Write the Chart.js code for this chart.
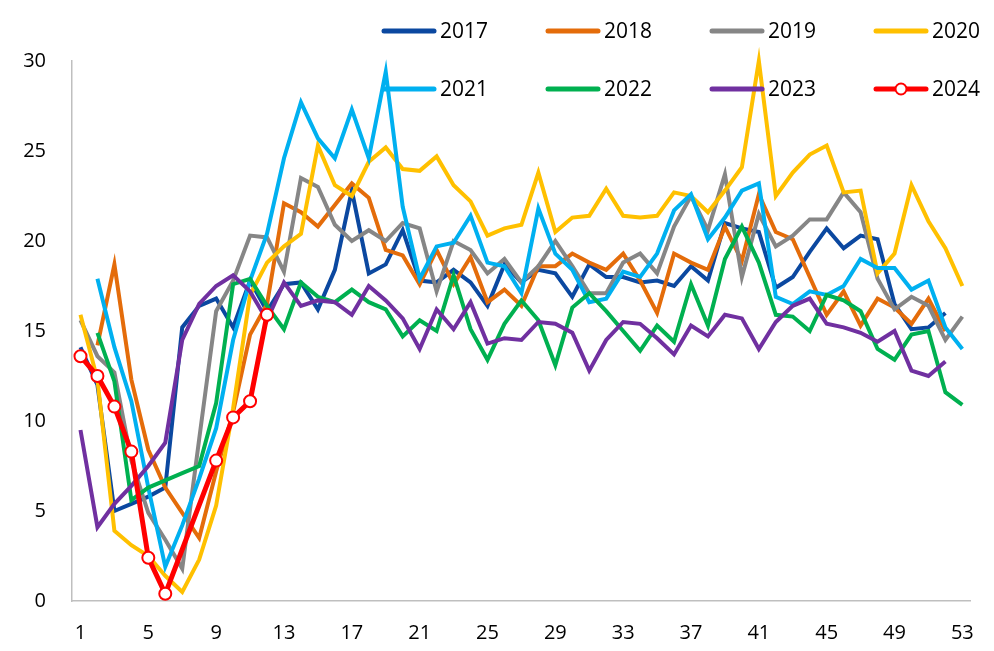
<!DOCTYPE html>
<html>
<head>
<meta charset="utf-8">
<script src="https://cdn.jsdelivr.net/npm/chart.js@4.4.1/dist/chart.umd.min.js"></script>
<style>
  html, body { margin: 0; padding: 0; background: #ffffff; }
  canvas { display: block; }
</style>
</head>
<body>
<canvas id="chart" width="994" height="651"></canvas>
<script>
// Week numbers along the x axis
const weeks = ['1','2','3','4','5','6','7','8','9','10','11','12','13','14','15','16','17','18','19','20',
  '21','22','23','24','25','26','27','28','29','30','31','32','33','34','35','36','37','38','39','40',
  '41','42','43','44','45','46','47','48','49','50','51','52','53'];

// Only every fourth week gets a tick label
const tickWeeks = ['1','5','9','13','17','21','25','29','33','37','41','45','49','53'];

const seriesNames = ['2017','2018','2019','2020','2021','2022','2023','2024'];
const seriesColors = ['#0B48A0','#E46C0A','#868686','#FFC000','#00B0F0','#00B050','#7030A0','#FF0000'];

const y2017 = [14.1, 12.0, 5.0, 5.4, 5.8, 6.3, 15.2, 16.4, 16.8, 15.2, 17.8, 16.1, 17.6, 17.7, 16.2, 18.4, 22.8, 18.2, 18.7, 20.6,
  17.8, 17.7, 18.4, 17.7, 16.4, 18.7, 17.7, 18.4, 18.2, 16.9, 18.7, 18.0, 18.0, 17.7, 17.8, 17.5, 18.6, 17.8, 21.0, 20.7,
  20.5, 17.4, 18.0, 19.4, 20.7, 19.6, 20.3, 20.1, 16.5, 15.1, 15.2, 16.0, null];

const y2018 = [null, 14.2, 18.7, 12.3, 8.4, 6.3, 4.9, 3.5, 7.2, 10.5, 14.8, 16.5, 22.1, 21.6, 20.8, 22.0, 23.2, 22.4, 19.5, 19.2,
  17.6, 19.5, 17.6, 19.1, 16.6, 17.3, 16.4, 18.6, 18.6, 19.3, 18.8, 18.4, 19.3, 17.8, 16.0, 19.3, 18.8, 18.4, 20.8, 18.9,
  22.6, 20.5, 20.1, 18.0, 15.9, 17.2, 15.3, 16.8, 16.3, 15.4, 16.8, 15.0, null];

const y2019 = [15.6, 13.6, 12.7, 7.8, 4.9, 3.4, 1.8, 9.0, 16.1, 17.8, 20.3, 20.2, 18.3, 23.5, 23.0, 20.9, 20.0, 20.6, 20.0, 21.0,
  20.7, 17.2, 20.0, 19.5, 18.2, 19.0, 17.7, 18.6, 20.0, 18.6, 17.1, 17.1, 18.8, 19.3, 18.2, 20.8, 22.5, 20.6, 23.7, 18.0,
  21.5, 19.7, 20.3, 21.2, 21.2, 22.7, 21.6, 17.9, 16.2, 16.9, 16.4, 14.5, 15.8];

const y2020 = [15.9, 12.3, 3.9, 3.1, 2.5, 1.4, 0.5, 2.3, 5.3, 10.7, 17.0, 18.8, 19.7, 20.4, 25.3, 23.1, 22.5, 24.4, 25.2, 24.0,
  23.9, 24.7, 23.1, 22.2, 20.3, 20.7, 20.9, 23.8, 20.5, 21.3, 21.4, 22.9, 21.4, 21.3, 21.4, 22.7, 22.5, 21.6, 22.8, 24.1,
  30.0, 22.5, 23.8, 24.8, 25.3, 22.7, 22.8, 18.2, 19.3, 23.1, 21.1, 19.6, 17.5];

const y2021 = [null, 17.9, 14.1, 11.1, 6.3, 1.9, 4.2, 6.8, 9.6, 14.5, 17.8, 20.4, 24.6, 27.7, 25.7, 24.6, 27.3, 24.6, 29.4, 21.9,
  17.9, 19.7, 19.9, 21.4, 18.8, 18.6, 17.1, 21.8, 19.3, 18.4, 16.6, 16.8, 18.3, 18.0, 19.3, 21.7, 22.6, 20.1, 21.3, 22.8,
  23.2, 16.9, 16.5, 17.2, 17.0, 17.5, 19.0, 18.5, 18.5, 17.3, 17.8, 15.2, 14.0];

const y2022 = [null, 14.9, 12.2, 5.6, 6.3, 6.7, 7.1, 7.5, 11.0, 17.6, 17.9, 16.4, 15.1, 17.7, 16.9, 16.6, 17.3, 16.6, 16.2, 14.7,
  15.6, 15.0, 18.1, 15.1, 13.4, 15.4, 16.7, 15.6, 13.1, 16.3, 17.1, 16.1, 15.0, 13.9, 15.3, 14.4, 17.6, 15.3, 19.0, 20.8,
  18.8, 15.9, 15.8, 15.0, 17.0, 16.7, 16.1, 14.0, 13.4, 14.8, 15.0, 11.6, 10.9];

const y2023 = [9.5, 4.1, 5.4, 6.4, 7.5, 8.8, 14.5, 16.5, 17.5, 18.1, 17.2, 15.6, 17.7, 16.4, 16.7, 16.6, 15.9, 17.5, 16.7, 15.7,
  14.0, 16.2, 15.1, 16.6, 14.3, 14.6, 14.5, 15.5, 15.4, 14.9, 12.8, 14.5, 15.5, 15.4, 14.6, 13.7, 15.3, 14.7, 15.9, 15.7,
  14.0, 15.5, 16.4, 16.8, 15.4, 15.2, 14.9, 14.4, 15.0, 12.8, 12.5, 13.3, null];

const y2024 = [13.6, 12.5, 10.8, 8.3, 2.4, 0.4, null, null, 7.8, 10.2, 11.1, 15.9, null, null, null, null, null, null, null, null,
  null, null, null, null, null, null, null, null, null, null, null, null, null, null, null, null, null, null, null, null,
  null, null, null, null, null, null, null, null, null, null, null, null, null];

const seriesValues = [y2017, y2018, y2019, y2020, y2021, y2022, y2023, y2024];
const markedSeries = '2024';

const datasets = seriesNames.map((name, i) => {
  const marked = name === markedSeries;
  return {
    label: name,
    data: seriesValues[i],
    borderColor: seriesColors[i],
    backgroundColor: seriesColors[i],
    borderWidth: marked ? 5 : 4,
    pointRadius: marked ? 6 : 0,
    pointHoverRadius: marked ? 6 : 0,
    pointBackgroundColor: '#ffffff',
    pointBorderColor: seriesColors[i],
    pointBorderWidth: 2,
    tension: 0,
    spanGaps: marked,
    clip: false,
    order: seriesNames.length - i   // later years sit on top
  };
});

// Two-row legend laid over the top right of the plot
const seriesLegend = {
  id: 'seriesLegend',
  afterDatasetsDraw(chart) {
    const ctx = chart.ctx;
    ctx.save();
    ctx.font = '21px "Open Sans", sans-serif';
    ctx.textBaseline = 'middle';
    ctx.textAlign = 'left';
    chart.data.datasets.forEach((ds, i) => {
      const col = i % 4;
      const row = Math.floor(i / 4);
      const x = 384 + col * 164;
      const y = 31 + row * 58;
      ctx.strokeStyle = ds.borderColor;
      ctx.lineWidth = 5;
      ctx.lineCap = 'round';
      ctx.beginPath();
      ctx.moveTo(x, y);
      ctx.lineTo(x + 50, y);
      ctx.stroke();
      if (ds.pointRadius > 0) {
        ctx.beginPath();
        ctx.arc(x + 25, y, 5.5, 0, Math.PI * 2);
        ctx.fillStyle = '#ffffff';
        ctx.fill();
        ctx.lineWidth = 2;
        ctx.strokeStyle = ds.borderColor;
        ctx.stroke();
      }
      ctx.fillStyle = '#000000';
      ctx.fillText(ds.label, x + 56, y + 1);
    });
    ctx.restore();
  }
};

Chart.defaults.font.family = '"Open Sans", sans-serif';
Chart.defaults.color = '#000000';

new Chart(document.getElementById('chart'), {
  type: 'line',
  data: { labels: weeks, datasets: datasets },
  plugins: [seriesLegend],
  options: {
    responsive: false,
    animation: false,
    events: [],
    layout: { padding: { top: 61, right: 22, bottom: 0, left: 0 } },
    plugins: {
      legend: { display: false },
      tooltip: { enabled: false }
    },
    scales: {
      x: {
        type: 'category',
        offset: true,
        grid: { display: false, drawTicks: false },
        border: { display: true, color: '#BFBFBF', width: 1.5 },
        ticks: {
          autoSkip: false,
          maxRotation: 0,
          padding: 20,
          font: { size: 20 },
          color: '#000000',
          callback: function (value, index) {
            const w = weeks[index];
            return tickWeeks.includes(w) ? w : '';
          }
        },
        afterFit: (scale) => { scale.height = 50; }
      },
      y: {
        min: 0,
        max: 30,
        grid: { display: false, drawTicks: false },
        border: { display: true, color: '#BFBFBF', width: 1.5 },
        ticks: {
          stepSize: 5,
          padding: 26,
          font: { size: 20 },
          color: '#000000'
        },
        afterFit: (scale) => { scale.width = 72; }
      }
    }
  }
});
</script>
</body>
</html>
